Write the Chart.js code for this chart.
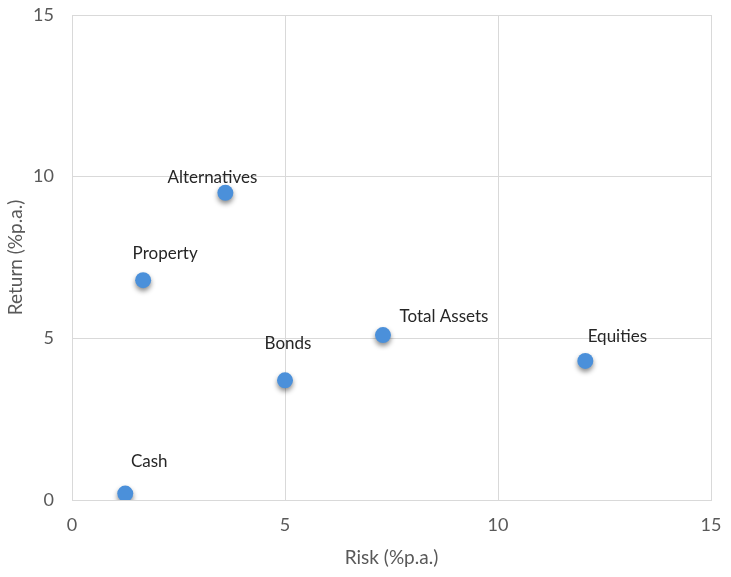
<!DOCTYPE html>
<html>
<head>
<meta charset="utf-8">
<script src="https://cdn.jsdelivr.net/npm/chart.js@4/dist/chart.umd.min.js"></script>
<style>
  html, body { margin: 0; padding: 0; background: #fff; }
  #wrap { width: 731px; height: 577px; }
</style>
</head>
<body>
<div id="wrap"><canvas id="chart" width="731" height="577"></canvas></div>
<script>
// asset classes: risk vs return (% p.a.)
const assetNames = ['Cash', 'Property', 'Alternatives', 'Bonds', 'Total Assets', 'Equities'];
const riskValues = [1.25, 1.67, 3.6, 5.0, 7.3, 12.05];
const returnValues = [0.2, 6.8, 9.5, 3.7, 5.1, 4.3];
const axisTicks = [0, 5, 10, 15];

// label offsets from the point, in pixels (style only)
const labelOffsets = [[24, -32], [22, -27], [-13, -15], [3, -37], [61, -19], [32, -24]];

const points = assetNames.map((name, i) => ({ x: riskValues[i], y: returnValues[i] }));

const FONT = 'Lato, Carlito, sans-serif';
const GRID = '#d9d9d9';
const TICK_COLOR = '#595959';

// soft shadow under the markers, like the spreadsheet original
const shadowPlugin = {
  id: 'markerShadow',
  beforeDatasetDraw(chart) {
    const ctx = chart.ctx;
    ctx.save();
    ctx.shadowColor = 'rgba(0, 0, 0, 0.45)';
    ctx.shadowBlur = 5;
    ctx.shadowOffsetX = 0;
    ctx.shadowOffsetY = 3;
  },
  afterDatasetDraw(chart) {
    chart.ctx.restore();
  }
};

const labelPlugin = {
  id: 'pointLabels',
  afterDatasetsDraw(chart) {
    const ctx = chart.ctx;
    const meta = chart.getDatasetMeta(0);
    ctx.save();
    ctx.font = '17px ' + FONT;
    ctx.fillStyle = '#262626';
    ctx.textAlign = 'center';
    ctx.textBaseline = 'middle';
    meta.data.forEach((pt, i) => {
      const [dx, dy] = labelOffsets[i];
      ctx.fillText(assetNames[i], pt.x + dx, pt.y + dy);
    });
    ctx.restore();
  }
};

function fixedTicks(axis) {
  axis.ticks = axisTicks.map(v => ({ value: v }));
}

new Chart(document.getElementById('chart'), {
  type: 'scatter',
  data: {
    datasets: [{
      label: 'Assets',
      data: points,
      backgroundColor: '#4b90da',
      borderColor: '#4b90da',
      borderWidth: 0,
      pointRadius: 8,
      pointHoverRadius: 8
    }]
  },
  options: {
    responsive: false,
    animation: false,
    layout: {
      padding: { top: 15, right: 20, left: 0, bottom: 0 }
    },
    plugins: {
      legend: { display: false },
      tooltip: { enabled: false }
    },
    scales: {
      x: {
        type: 'linear',
        min: 0,
        max: 15,
        afterBuildTicks: fixedTicks,
        afterFit: (scale) => {
          scale.height = 77;
          scale.paddingLeft = 0;
          scale.paddingRight = 0;
        },
        grid: { color: GRID, drawTicks: false },
        border: { color: GRID },
        ticks: {
          padding: 14,
          color: TICK_COLOR,
          font: { family: FONT, size: 18 }
        },
        title: {
          display: true,
          text: 'Risk (%p.a.)',
          color: TICK_COLOR,
          font: { family: FONT, size: 19 },
          padding: { top: 0, bottom: 8 }
        }
      },
      y: {
        type: 'linear',
        min: 0,
        max: 15,
        afterBuildTicks: fixedTicks,
        afterFit: (scale) => {
          scale.width = 72;
          scale.paddingTop = 0;
          scale.paddingBottom = 0;
        },
        grid: { color: GRID, drawTicks: false },
        border: { color: GRID },
        ticks: {
          padding: 18,
          color: TICK_COLOR,
          font: { family: FONT, size: 18 }
        },
        title: {
          display: true,
          text: 'Return (%p.a.)',
          color: TICK_COLOR,
          font: { family: FONT, size: 19 },
          padding: { top: 4, bottom: 0 }
        }
      }
    }
  },
  plugins: [shadowPlugin, labelPlugin]
});
</script>
</body>
</html>
